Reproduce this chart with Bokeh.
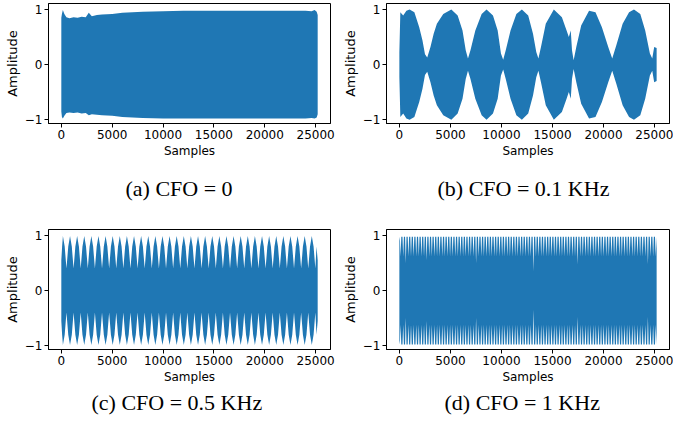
from bokeh.plotting import figure
from bokeh.layouts import column, row
from bokeh.models import Range1d, FixedTicker
from bokeh.embed import file_html
from bokeh.resources import INLINE

BLUE = "#1f77b4"

# ---------------- data (envelopes) ----------------
a_x = [0, 60, 150, 300, 500, 800, 1200, 1600, 2000, 2400, 2700, 3000, 3500, 4000, 5000,
       6000, 7000, 8000, 10000, 12000, 14000, 16000, 18000, 20000, 22000, 24000, 24600,
       24900, 25100, 25200]
a_up = [0.85, 0.92, 0.99, 0.92, 0.86, 0.84, 0.86, 0.85, 0.87, 0.86, 0.94, 0.88, 0.9, 0.91, 0.92,
        0.94, 0.95, 0.96, 0.97, 0.98, 0.98, 0.98, 0.98, 0.98, 0.98, 0.98, 0.97,
        0.99, 0.96, 0.9]
a_lo = [-0.85, -0.95, -0.98, -0.93, -0.88, -0.87, -0.88, -0.87, -0.89, -0.88, -0.92, -0.9, -0.91, -0.92, -0.93,
        -0.95, -0.96, -0.97, -0.98, -0.98, -0.98, -0.98, -0.98, -0.98, -0.98, -0.98, -0.97,
        -0.98, -0.96, -0.9]

b_x = [0, 95, 375, 690, 1005, 1470, 1945, 2265, 2510, 2730, 3045, 3360, 3675, 4300, 5090,
       5710, 6185, 6500, 6720, 6965, 7440, 8060, 8540, 9170, 9630, 9950, 10170, 10420, 10890,
       11460, 12000, 12620, 13090, 13410, 13620, 13870, 14340, 15130, 15920, 16380, 16600,
       16790, 16910, 17070, 17330, 17810, 18580, 19210, 19840, 20460, 20850, 21250, 21870,
       22500, 22980, 23600, 24080, 24540, 24770, 24960, 25200]
b_env = [0.23, 0.95, 0.89, 0.98, 1.0, 0.95, 0.68, 0.44, 0.19, 0.13, 0.32, 0.56, 0.74, 0.92, 1.0,
         0.89, 0.62, 0.26, 0.11, 0.26, 0.62, 0.92, 1.0, 0.89, 0.62, 0.2, 0.09, 0.26, 0.62,
         0.92, 1.0, 0.89, 0.56, 0.23, 0.11, 0.32, 0.74, 1.0, 0.86, 0.62, 0.5,
         0.62, 0.26, 0.08, 0.32, 0.71, 0.98, 0.95, 0.68, 0.32, 0.11, 0.35, 0.74,
         0.95, 1.0, 0.92, 0.62, 0.2, 0.11, 0.32, 0.3]

c_peaks = [157, 856, 1555, 2254, 2953, 3652, 4351, 5050, 5749, 6448, 7147, 7846, 8545, 9244,
           9943, 10642, 11341, 12040, 12739, 13438, 14137, 14836, 15535, 16234, 16933, 17632,
           18331, 19030, 19729, 20428, 21127, 21826, 22525, 23224, 23923, 24622]
c_troughs = [0, 506, 1205, 1904, 2603, 3302, 4001, 4700, 5399, 6098, 6797, 7496, 8195, 8894,
             9593, 10292, 10991, 11690, 12389, 13088, 13787, 14486, 15185, 15884, 16583, 17282,
             17981, 18680, 19379, 20078, 20777, 21476, 22175, 22874, 23573, 24272, 24971, 25200]
c_depth = [0.55, 0.4, 0.4, 0.4, 0.4, 0.4, 0.4, 0.4, 0.4, 0.4, 0.4, 0.4, 0.4, 0.4,
           0.4, 0.4, 0.4, 0.4, 0.4, 0.4, 0.4, 0.4, 0.4, 0.4, 0.4, 0.4,
           0.4, 0.4, 0.4, 0.4, 0.4, 0.4, 0.4, 0.4, 0.4, 0.4, 0.4, 0.55]
c_peak_amp = 0.99
c_shoulder = 0.8

d_notches = [120, 375, 630, 885, 1140, 1395, 1650, 1905, 2160, 2415, 2670, 2925, 3180, 3435,
             3690, 3945, 4200, 4455, 4710, 4965, 5220, 5475, 5730, 5985, 6240, 6495, 6750, 7005,
             7260, 7515, 7770, 8025, 8280, 8535, 8790, 9045, 9300, 9555, 9810, 10065, 10320,
             10575, 10830, 11085, 11340, 11595, 11850, 12105, 12360, 12615, 12870, 13125, 13380,
             13635, 13890, 14145, 14400, 14655, 14910, 15165, 15420, 15675, 15930, 16185, 16440,
             16695, 16950, 17205, 17460, 17715, 17970, 18225, 18480, 18735, 18990, 19245, 19500,
             19755, 20010, 20265, 20520, 20775, 21030, 21285, 21540, 21795, 22050, 22305, 22560,
             22815, 23070, 23325, 23580, 23835, 24090, 24345, 24600, 24855, 25110]
d_depth = [0.62, 0.62, 0.5, 0.62, 0.62, 0.62, 0.62, 0.62, 0.62, 0.62, 0.55, 0.62, 0.62, 0.62,
           0.62, 0.62, 0.62, 0.62, 0.62, 0.62, 0.62, 0.62, 0.62, 0.62, 0.62, 0.62, 0.62, 0.62,
           0.62, 0.5, 0.62, 0.62, 0.62, 0.62, 0.62, 0.62, 0.62, 0.62, 0.62, 0.62, 0.62,
           0.62, 0.62, 0.62, 0.62, 0.62, 0.62, 0.62, 0.62, 0.62, 0.62, 0.35, 0.62,
           0.62, 0.62, 0.62, 0.62, 0.62, 0.62, 0.62, 0.62, 0.62, 0.62, 0.62, 0.62,
           0.62, 0.62, 0.62, 0.48, 0.62, 0.62, 0.62, 0.62, 0.62, 0.62, 0.62, 0.62,
           0.62, 0.62, 0.62, 0.62, 0.62, 0.62, 0.62, 0.62, 0.62, 0.62, 0.62, 0.62,
           0.62, 0.62, 0.62, 0.62, 0.62, 0.62, 0.48, 0.62, 0.62, 0.62]
d_top = 0.98

x_ticks = [0, 5000, 10000, 15000, 20000, 25000]
y_ticks = [-1, 0, 1]
captions = ["(a) CFO = 0", "(b) CFO = 0.1 KHz", "(c) CFO = 0.5 KHz", "(d) CFO = 1 KHz"]


def build_c():
    pts = [(x, c_peak_amp) for x in c_peaks] + list(zip(c_troughs, c_depth))
    pts.sort()
    xs, ys = [], []
    for (x0, y0), (x1, y1) in zip(pts[:-1], pts[1:]):
        xs += [x0, (x0 + x1) / 2]
        ys += [y0, c_shoulder]
    xs.append(pts[-1][0])
    ys.append(pts[-1][1])
    return xs, ys


def build_d():
    xs, ys = [0], [0.9]
    for c, dep in zip(d_notches, d_depth):
        xs += [c - 70, c, c + 70]
        ys += [d_top, dep, d_top]
    xs.append(25200)
    ys.append(0.7)
    return xs, ys


def make_panel(xs, up, lo, caption, fw, fh, bl, br, bt, bb, cap_off, standoff):
    p = figure(frame_width=fw, frame_height=fh, output_backend="svg", toolbar_location=None,
               x_range=Range1d(-1260, 26460), y_range=Range1d(-1.07, 1.11),
               min_border_left=bl, min_border_right=br, min_border_top=bt,
               min_border_bottom=bb, title_location="below")
    p.varea(x=xs, y1=lo, y2=up, fill_color=BLUE, fill_alpha=1.0)
    p.xgrid.visible = False
    p.ygrid.visible = False
    p.outline_line_color = "black"
    p.outline_line_alpha = 1.0
    p.outline_line_width = 1
    p.background_fill_color = "white"
    p.border_fill_color = "white"
    p.xaxis.ticker = FixedTicker(ticks=x_ticks)
    p.yaxis.ticker = FixedTicker(ticks=y_ticks)
    p.yaxis.major_label_overrides = {-1: "\u22121", 0: "0", 1: "1"}
    for ax in (p.xaxis[0], p.yaxis[0]):
        ax.axis_line_color = "black"
        ax.major_tick_line_color = "black"
        ax.major_tick_out = 4
        ax.major_tick_in = 0
        ax.minor_tick_line_color = None
        ax.major_label_text_font = "DejaVu Sans"
        ax.major_label_text_color = "black"
        ax.axis_label_text_font = "DejaVu Sans"
        ax.axis_label_text_font_style = "normal"
        ax.axis_label_text_color = "black"
        ax.major_label_standoff = 2
        ax.axis_label_standoff = 2
    p.xaxis.major_label_text_font_size = "12px"
    p.yaxis.major_label_text_font_size = "12px"
    p.xaxis.axis_label = "Samples"
    p.yaxis.axis_label = "Amplitude"
    p.xaxis.axis_label_text_font_size = "12px"
    p.yaxis.axis_label_text_font_size = "13px"
    p.title.text = caption
    p.title.text_font = "Liberation Serif"
    p.title.text_font_size = "22px"
    p.title.text_font_style = "normal"
    p.title.text_color = "black"
    p.title.align = "left"
    p.title.offset = cap_off
    p.title.standoff = standoff
    return p


pa = make_panel(a_x, a_up, a_lo, captions[0], 282, 120, 48, 8, 3, 93, 77, 26)
pb = make_panel(b_x, b_env, [-v for v in b_env], captions[1], 283, 120, 48, 4, 3, 93, 51, 26)
cx, cy = build_c()
pc = make_panel(cx, cy, [-v for v in cy], captions[2], 282, 120, 48, 8, 13, 70, 43, 3)
dx, dy = build_d()
pd = make_panel(dx, dy, [-v for v in dy], captions[3], 283, 120, 48, 4, 13, 70, 58, 3)

layout = column(row(pa, pb), row(pc, pd))
open("out.html", "w").write(file_html(layout, INLINE))
